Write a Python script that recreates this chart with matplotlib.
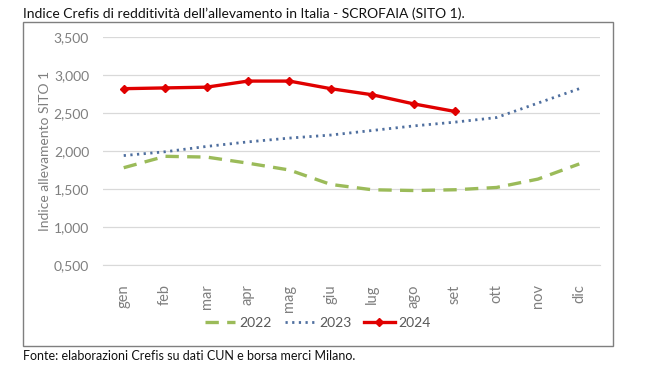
import matplotlib.pyplot as plt
import matplotlib.ticker as mticker
from matplotlib.patches import Rectangle

mesi = ['gen', 'feb', 'mar', 'apr', 'mag', 'giu', 'lug', 'ago', 'set', 'ott', 'nov', 'dic']
v2022 = [1.78, 1.93, 1.92, 1.84, 1.75, 1.56, 1.49, 1.48, 1.49, 1.52, 1.63, 1.83]
v2023 = [1.94, 1.99, 2.06, 2.12, 2.17, 2.21, 2.27, 2.33, 2.38, 2.44, 2.63, 2.82]
v2024 = [2.82, 2.83, 2.84, 2.92, 2.92, 2.82, 2.74, 2.62, 2.52]
yticks = [0.5, 1.0, 1.5, 2.0, 2.5, 3.0, 3.5]

plt.rcParams['font.family'] = ['Lato', 'DejaVu Sans']

fig = plt.figure(figsize=(6.5, 3.66), dpi=100)
W, H = 650, 366
ax = fig.add_axes([103 / W, 1 - 265 / H, (600 - 103) / W, (265 - 37) / H])

x = list(range(len(mesi)))
ax.plot(x, v2022, color='#9bbb59', lw=2.4, ls=(0, (4, 2.5)), label='2022')
ax.plot(x, v2023, color='#4f6f9f', lw=2.0, ls=(0, (0.8, 1.6)), label='2023')
ax.plot(x[:len(v2024)], v2024, color='#e00000', lw=2.4, marker='D', ms=4.5,
        label='2024')

ax.set_xlim(-0.5, 11.5)
ax.set_ylim(0.5, 3.5)
ax.set_yticks(yticks)
ax.yaxis.set_major_formatter(mticker.FuncFormatter(lambda v, p: f'{v:.3f}'.replace('.', ',')))
ax.set_xticks(x)
ax.set_xticklabels(mesi, rotation=90, fontsize=10.5)
ax.tick_params(axis='both', length=0, colors='#7f7f7f')
ax.tick_params(axis='y', labelsize=10, pad=10)
ax.tick_params(axis='x', pad=14)
ax.grid(axis='y', color='#d9d9d9', lw=0.9)
ax.set_axisbelow(True)
for s in ax.spines.values():
    s.set_visible(False)
ax.spines['bottom'].set_visible(True)
ax.spines['bottom'].set_color('#d9d9d9')

ax.set_ylabel('Indice allevamento SITO 1', color='#7f7f7f', fontsize=10, labelpad=2)

ax.legend(loc='center', bbox_to_anchor=(318 / W, 1 - 323 / H), bbox_transform=fig.transFigure,
          ncol=3, frameon=False, fontsize=10, labelcolor='#595959',
          handlelength=2.2, handletextpad=0.3, columnspacing=0.9)

fig.patches.append(Rectangle((23 / W, 1 - 346 / H), (613 - 23) / W, (346 - 22) / H,
                             transform=fig.transFigure, fill=False, ec='#7f7f7f', lw=1.0))

fig.text(23 / W, 1 - 14 / H, "Indice Crefis di redditività dell\u2019allevamento in Italia - SCROFAIA (SITO 1).",
         fontsize=10, va='center', ha='left', color='#111111')
fig.text(23 / W, 1 - 356 / H, 'Fonte: elaborazioni Crefis su dati CUN e borsa merci Milano.',
         fontsize=9, va='center', ha='left', color='#111111')

fig.savefig('out.png', dpi=100)
